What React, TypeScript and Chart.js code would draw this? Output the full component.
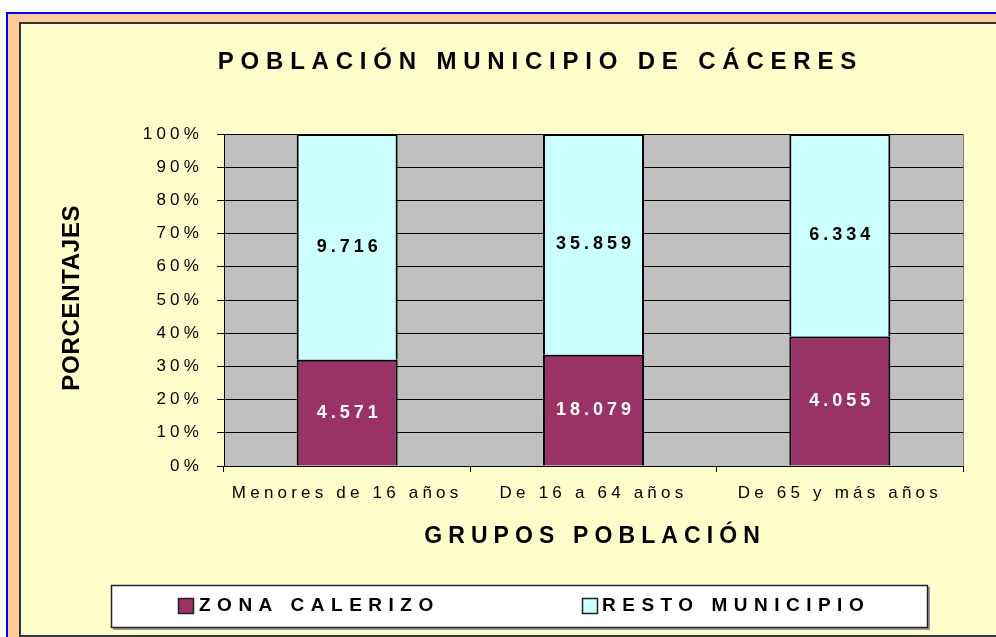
import React, { useEffect, useRef } from "react";
import { Chart, registerables } from "chart.js";

Chart.register(...registerables);

const categories = ["Menores de 16 años", "De 16 a 64 años", "De 65 y más años"];
const zonaCalerizo = [4571, 18079, 4055];
const restoMunicipio = [9716, 35859, 6334];
const seriesNames = ["ZONA CALERIZO", "RESTO MUNICIPIO"];
const chartTitle = "POBLACIÓN MUNICIPIO DE CÁCERES";
const xTitle = "GRUPOS POBLACIÓN";
const yTitle = "PORCENTAJES";

const FONT = "'Liberation Sans', Arial, sans-serif";
const MAROON = "#993366";
const CYAN = "#CCFFFF";

const totals = categories.map((_, i) => zonaCalerizo[i] + restoMunicipio[i]);
const zonaPct = zonaCalerizo.map((v, i) => (v / totals[i]) * 100);
const restoPct = restoMunicipio.map((v, i) => (v / totals[i]) * 100);
const rawValues = [zonaCalerizo, restoMunicipio];

const fmt = (v: number) => String(v).replace(/\B(?=(\d{3})+(?!\d))/g, ".");

function spacedText(
  ctx: CanvasRenderingContext2D,
  text: string,
  cx: number,
  cy: number,
  font: string,
  ls: number,
  color: string,
  align: "center" | "left" = "center"
) {
  ctx.save();
  ctx.font = font;
  (ctx as any).letterSpacing = ls + "px";
  ctx.fillStyle = color;
  ctx.textBaseline = "middle";
  ctx.textAlign = "left";
  const w = ctx.measureText(text).width - ls;
  const x = align === "center" ? cx - w / 2 : cx;
  ctx.fillText(text, x, cy);
  ctx.restore();
}

const framePlugin = {
  id: "frame",
  beforeDraw(chart: any) {
    const ctx: CanvasRenderingContext2D = chart.ctx;
    const W = chart.width;
    const H = chart.height;
    ctx.save();
    ctx.fillStyle = "#FFFFFF";
    ctx.fillRect(0, 0, W, H);
    ctx.fillStyle = "#0000FF";
    ctx.fillRect(6, 12, W - 6, 2);
    ctx.fillRect(6, 12, 2, H - 12);
    ctx.fillStyle = "#FFCC99";
    ctx.fillRect(8, 14, W - 8, 8);
    ctx.fillRect(8, 14, 11, H - 14);
    ctx.fillStyle = "#333333";
    ctx.fillRect(19, 22, W - 19, 2);
    ctx.fillRect(19, 22, 2, H - 22);
    ctx.fillRect(19, 635, W - 19, 2);
    ctx.fillStyle = "#FFFFCC";
    ctx.fillRect(21, 24, W - 21, 611);
    const a = chart.chartArea;
    ctx.fillStyle = "#C0C0C0";
    ctx.fillRect(a.left, a.top, a.right - a.left, a.bottom - a.top);
    ctx.strokeStyle = "#808080";
    ctx.lineWidth = 1;
    ctx.beginPath();
    ctx.moveTo(a.right + 0.5, a.top);
    ctx.lineTo(a.right + 0.5, a.bottom);
    ctx.stroke();
    ctx.restore();
    (ctx as any).letterSpacing = "4.2px";
  },
  afterDatasetsDraw(chart: any) {
    const ctx: CanvasRenderingContext2D = chart.ctx;
    chart.data.datasets.forEach((ds: any, di: number) => {
      const meta = chart.getDatasetMeta(di);
      meta.data.forEach((el: any, i: number) => {
        const cy = (el.y + el.base) / 2;
        spacedText(
          ctx,
          fmt(rawValues[di][i]),
          el.x,
          cy,
          "bold 18px " + FONT,
          4,
          di === 0 ? "#FFFFFF" : "#000000"
        );
      });
    });
  },
  afterDraw(chart: any) {
    const ctx: CanvasRenderingContext2D = chart.ctx;
    spacedText(ctx, chartTitle, 537, 62, "bold 24px " + FONT, 6.8, "#000");
    spacedText(ctx, xTitle, 592, 537, "bold 23px " + FONT, 6.1, "#000");
    ctx.save();
    ctx.translate(72, 298);
    ctx.rotate(-Math.PI / 2);
    spacedText(ctx, yTitle, 0, 0, "bold 24px " + FONT, 0.7, "#000");
    ctx.restore();
    // legend box
    ctx.save();
    ctx.fillStyle = "#999999";
    ctx.fillRect(113, 587, 817, 43);
    ctx.fillStyle = "#FFFFFF";
    ctx.fillRect(111, 585, 817, 43);
    ctx.strokeStyle = "#222";
    ctx.lineWidth = 1.5;
    ctx.strokeRect(111.5, 585.5, 816, 42);
    const items = [
      { sx: 178, tx: 199, color: MAROON },
      { sx: 582, tx: 602, color: CYAN },
    ];
    items.forEach((it, k) => {
      ctx.fillStyle = it.color;
      ctx.fillRect(it.sx, 598, 16, 16);
      ctx.strokeStyle = "#222";
      ctx.lineWidth = 1.5;
      ctx.strokeRect(it.sx + 0.5, 598.5, 15, 15);
      spacedText(ctx, seriesNames[k], it.tx, 606, "bold 19px " + FONT, 6.5, "#000", "left");
    });
    ctx.restore();
  },
};

export default function App() {
  const ref = useRef<HTMLCanvasElement | null>(null);
  useEffect(() => {
    if (!ref.current) return;
    const chart = new Chart(ref.current, {
      type: "bar",
      data: {
        labels: categories,
        datasets: [
          {
            label: seriesNames[0],
            data: zonaPct,
            backgroundColor: MAROON,
            borderColor: "#000",
            borderWidth: 2,
            categoryPercentage: 1,
            barPercentage: 0.41,
          },
          {
            label: seriesNames[1],
            data: restoPct,
            backgroundColor: CYAN,
            borderColor: "#000",
            borderWidth: 2,
            categoryPercentage: 1,
            barPercentage: 0.41,
          },
        ],
      },
      options: {
        responsive: false,
        animation: false,
        layout: { padding: { left: 124, top: 134, right: 33, bottom: 121 } },
        plugins: {
          legend: { display: false },
          title: { display: false },
          tooltip: { enabled: false },
        },
        scales: {
          x: {
            stacked: true,
            afterFit: (s: any) => {
              s.height = 50;
            },
            grid: {
              display: true,
              drawOnChartArea: false,
              drawTicks: true,
              tickLength: 6,
              color: "#000",
              offset: true,
            },
            border: { display: true, color: "#000", width: 1 },
            ticks: {
              color: "#000",
              font: { family: FONT, size: 17 },
              padding: 11,
              maxRotation: 0,
              autoSkip: false,
            },
          },
          y: {
            stacked: true,
            min: 0,
            max: 100,
            afterFit: (s: any) => {
              s.width = 100;
            },
            grid: { color: "#000", lineWidth: 1, tickLength: 7, drawTicks: true },
            border: { display: true, color: "#000", width: 1 },
            ticks: {
              stepSize: 10,
              color: "#000",
              font: { family: FONT, size: 17 },
              padding: 14,
              callback: (v: any) => v + "%",
            },
          },
        },
      },
      plugins: [framePlugin],
    });
    return () => chart.destroy();
  }, []);
  return (
    <div style={{ position: "absolute", left: 0, top: 0, width: 996, height: 637 }}>
      <canvas ref={ref} width={996} height={637} style={{ display: "block" }} />
    </div>
  );
}
